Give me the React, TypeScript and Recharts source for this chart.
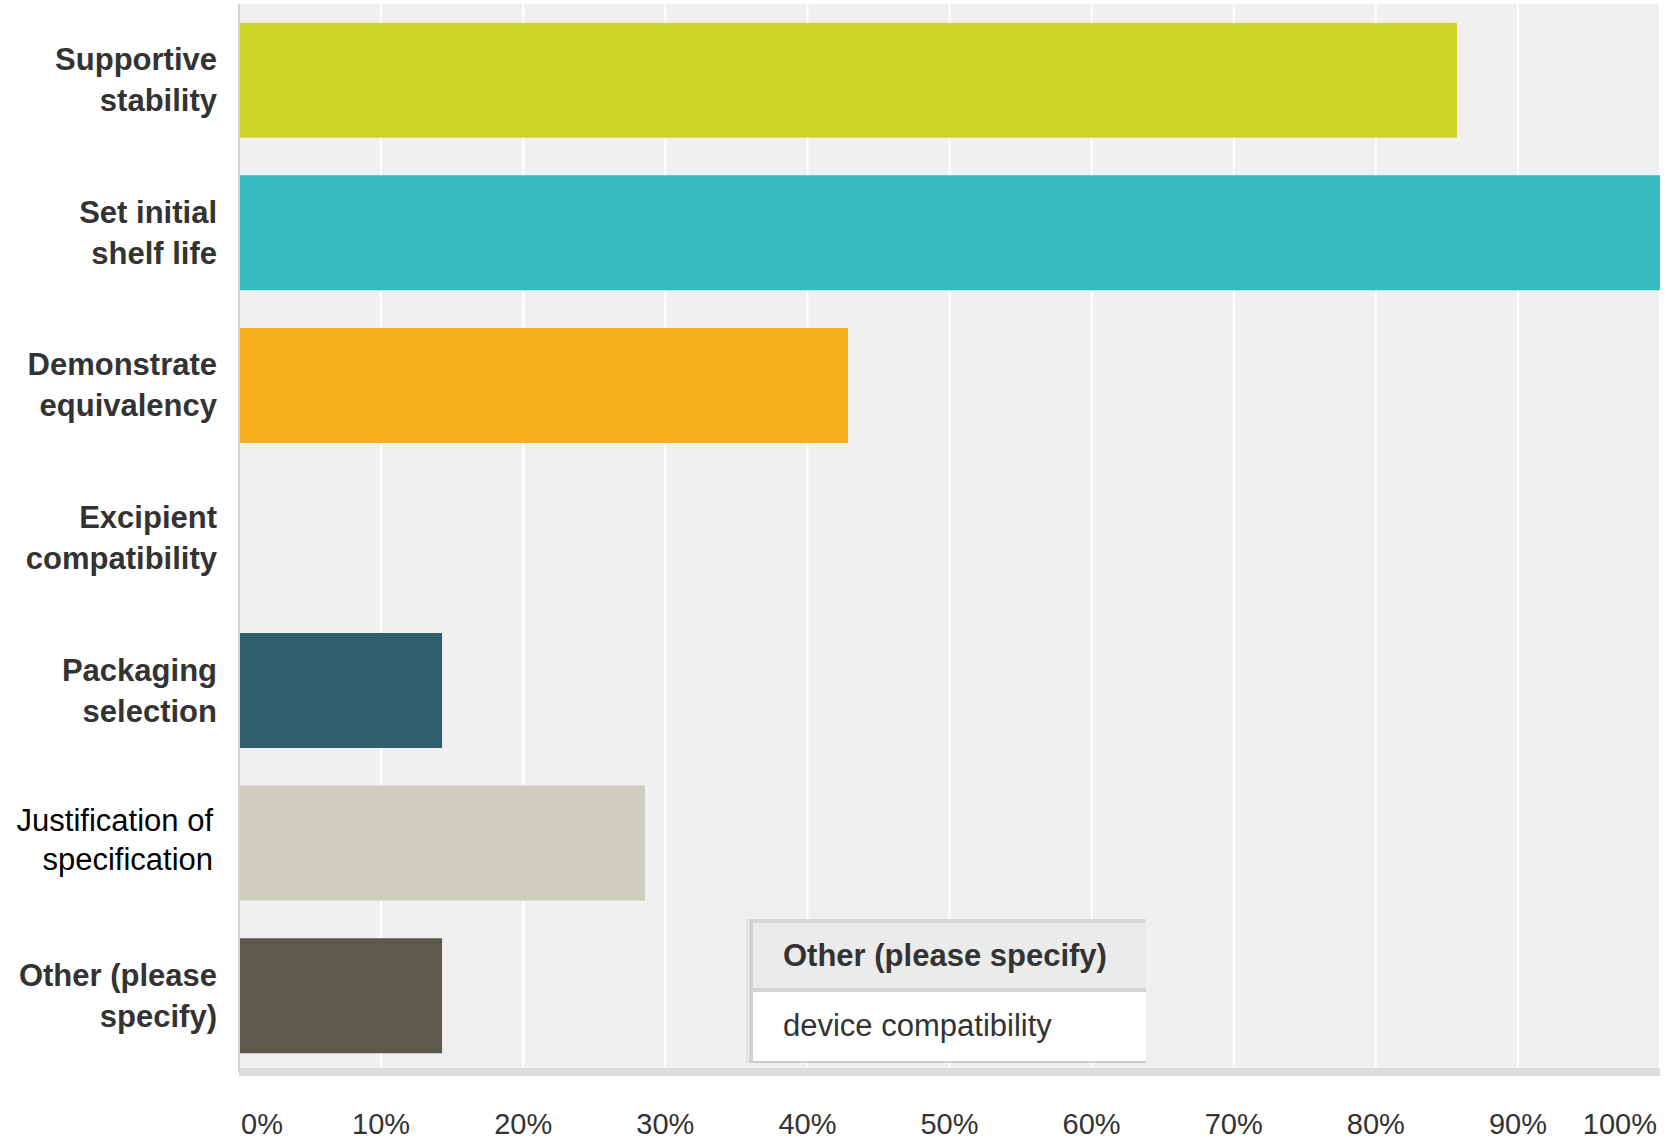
import React from 'react';
import { BarChart, Bar, XAxis, YAxis, CartesianGrid, Cell } from 'recharts';

const categories = [
  'Supportive stability',
  'Set initial shelf life',
  'Demonstrate equivalency',
  'Excipient compatibility',
  'Packaging selection',
  'Justification of specification',
  'Other (please specify)',
];
const categoryLines = [
  ['Supportive', 'stability'],
  ['Set initial', 'shelf life'],
  ['Demonstrate', 'equivalency'],
  ['Excipient', 'compatibility'],
  ['Packaging', 'selection'],
  ['Justification of', 'specification'],
  ['Other (please', 'specify)'],
];
const boldLabels = [true, true, true, true, true, false, true];
const values = [85.71, 100, 42.86, 0, 14.29, 28.57, 14.29];
const barColors = ['#cfd528', '#34bcbf', '#f7af1f', '#2f5f6b', '#2f5f6b', '#cfcdbf', '#5c5a4b'];
const xTicks = [0, 10, 20, 30, 40, 50, 60, 70, 80, 90, 100];
const otherHeader = 'Other (please specify)';
const otherResponses = ['device compatibility'];

const data = categories.map((name, i) => ({ name, value: values[i] }));

const FONT = '"Liberation Sans", Arial, Helvetica, sans-serif';

const YTick = (props: any) => {
  const { x, y, payload } = props;
  const idx = categories.indexOf(payload.value);
  const lines = categoryLines[idx] || [payload.value];
  const bold = boldLabels[idx];
  const tx = bold ? x - 22 : x - 26;
  const d1 = bold ? -10 : -12;
  const d2 = bold ? 31 : 27;
  const style = {
    fontFamily: FONT,
    fontSize: 31,
    fontWeight: bold ? 700 : 400,
    fill: bold ? '#333333' : '#000000',
  };
  return (
    <g>
      <text x={tx} y={y + d1} textAnchor="end" {...style}>
        {lines[0]}
      </text>
      <text x={tx} y={y + d2} textAnchor="end" {...style}>
        {lines[1]}
      </text>
    </g>
  );
};

const XTick = (props: any) => {
  const { x, y, payload, index } = props;
  let anchor: 'start' | 'middle' | 'end' = 'middle';
  let dx = 0;
  if (index === 0) {
    anchor = 'start';
    dx = 2;
  } else if (index === xTicks.length - 1) {
    anchor = 'end';
    dx = -3;
  }
  return (
    <text
      x={x + dx}
      y={y + 62}
      textAnchor={anchor}
      fontFamily={FONT}
      fontSize={29}
      fill="#333333"
    >
      {`${payload.value}%`}
    </text>
  );
};

export default function App() {
  return (
    <div
      style={{
        position: 'absolute',
        left: 0,
        top: 0,
        width: 1676,
        height: 1141,
        background: '#ffffff',
        fontFamily: FONT,
      }}
    >
      <BarChart
        width={1676}
        height={1141}
        data={data}
        layout="vertical"
        margin={{ top: 4, right: 16, left: 0, bottom: 0 }}
        barCategoryGap="12.3%"
      >
        <CartesianGrid
          horizontal={false}
          vertical={true}
          stroke="#ffffff"
          strokeWidth={2}
          fill="#f0f0f0"
        />
        <XAxis
          type="number"
          domain={[0, 100]}
          ticks={xTicks}
          interval={0}
          height={69}
          tickLine={false}
          tickSize={0}
          tickMargin={0}
          axisLine={{ stroke: '#dcdcdc', strokeWidth: 8 }}
          tick={<XTick />}
        />
        <YAxis
          type="category"
          dataKey="name"
          width={239}
          interval={0}
          tickLine={false}
          tickSize={0}
          tickMargin={0}
          axisLine={{ stroke: '#d4d4d4', strokeWidth: 2 }}
          tick={<YTick />}
        />
        <Bar dataKey="value" isAnimationActive={false}>
          {data.map((d, i) => (
            <Cell key={d.name} fill={barColors[i]} />
          ))}
        </Bar>
      </BarChart>
      <div
        style={{
          position: 'absolute',
          left: 746,
          top: 919,
          width: 400,
          boxSizing: 'border-box',
          borderLeft: '2px solid #e4e4e4',
          paddingLeft: 1,
          fontFamily: FONT,
          fontSize: 31,
        }}
      >
        <div style={{ borderLeft: '4px solid #d2d2d2' }}>
          <div
            style={{
              background: '#ebebeb',
              borderTop: '4px solid #d9d9d9',
              borderBottom: '4px solid #d3d3d3',
              height: 65,
              lineHeight: '65px',
              paddingLeft: 30,
              fontWeight: 700,
              color: '#333333',
              whiteSpace: 'nowrap',
            }}
          >
            {otherHeader}
          </div>
          {otherResponses.map((r) => (
            <div
              key={r}
              style={{
                background: '#ffffff',
                borderBottom: '2px solid #cccccc',
                height: 69,
                lineHeight: '68px',
                paddingLeft: 30,
                color: '#333333',
                whiteSpace: 'nowrap',
              }}
            >
              {r}
            </div>
          ))}
        </div>
      </div>
    </div>
  );
}
